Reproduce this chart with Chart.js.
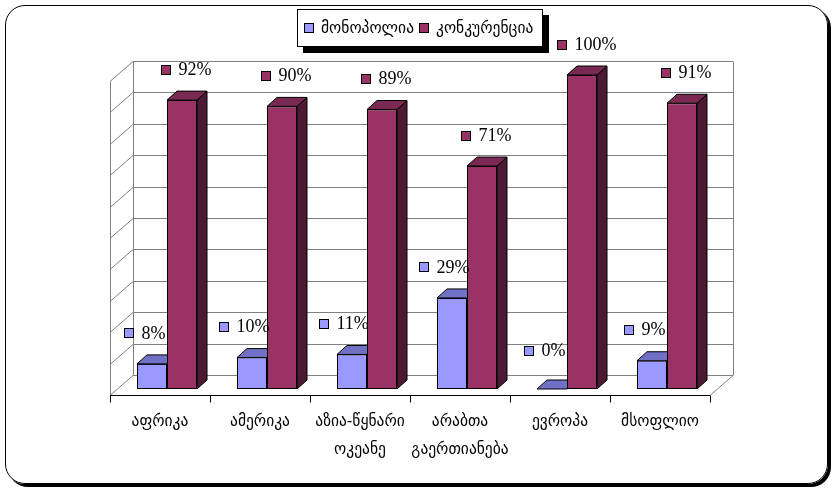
<!DOCTYPE html>
<html>
<head>
<meta charset="utf-8">
<script src="https://cdn.jsdelivr.net/npm/chart.js@4/dist/chart.umd.min.js"></script>
<style>
  html, body { margin: 0; padding: 0; background: #fff; }
  #wrap { position: relative; width: 835px; height: 491px; overflow: hidden; }
  #frame {
    position: absolute; left: 5px; top: 5px; width: 821px; height: 477px;
    border: 1px solid #000; border-radius: 20px; box-shadow: 3px 3px 0 #000;
  }
  #c { position: absolute; left: 0; top: 0; }
  #legend {
    position: absolute; left: 297px; top: 9px; width: 246px; height: 38px;
    border: 1px solid #000; background: #fff; box-shadow: 6px 6px 0 #000;
    font: 15.5px "DejaVu Sans", sans-serif; display: flex; align-items: center;
    padding-left: 6px; box-sizing: border-box; white-space: nowrap;
  }
  #legend .sw { display: inline-block; width: 8px; height: 8px; border: 1px solid #000; margin-right: 7px; }
  #legend .it { display: inline-flex; align-items: center; margin-right: 5px; }
</style>
</head>
<body>
<div id="wrap">
  <div id="frame"></div>
  <canvas id="c" width="835" height="491"></canvas>
  <div id="legend"></div>
</div>
<script>
const categories = [['აფრიკა'], ['ამერიკა'], ['აზია-წყნარი', 'ოკეანე'], ['არაბთა', 'გაერთიანება'], ['ევროპა'], ['მსოფლიო']];
const seriesNames = ['მონოპოლია', 'კონკურენცია'];
const monopoly = [8, 10, 11, 29, 0, 9];
const competition = [92, 90, 89, 71, 100, 91];
const gridValues = [0, 10, 20, 30, 40, 50, 60, 70, 80, 90, 100];

const colors = {
  front: ['#9999FF', '#993366'],
  top: ['#7070C4', '#7A2952'],
  side: ['#5C5CA3', '#4D1A33']
};

// depth geometry (bar plane -> front floor / back wall / bar back)
const FRONT = { dx: -7, dy: 6 };
const BACK = { dx: 16, dy: -14 };
const BAR_D = { dx: 10, dy: -9 };

const legend = document.getElementById('legend');
legend.innerHTML = seriesNames.map((n, i) =>
  `<span class="it"><span class="sw" style="background:${colors.front[i]}"></span>${n}</span>`
).join('');

const walls3d = {
  id: 'walls3d',
  beforeDatasetsDraw(chart) {
    const { ctx, chartArea: a, scales: { x, y } } = chart;
    ctx.save();
    ctx.lineWidth = 1;
    ctx.strokeStyle = '#808080';
    const L = a.left, R = a.right;
    ctx.beginPath();
    gridValues.forEach(v => {
      const py = Math.round(y.getPixelForValue(v)) + 0.5;
      ctx.moveTo(L + BACK.dx, py + BACK.dy);
      ctx.lineTo(R + BACK.dx, py + BACK.dy);
      ctx.moveTo(L + FRONT.dx, py + FRONT.dy);
      ctx.lineTo(L + BACK.dx, py + BACK.dy);
    });
    const yTop = Math.round(y.getPixelForValue(100)) + 0.5;
    const yBot = Math.round(y.getPixelForValue(0)) + 0.5;
    ctx.moveTo(L + FRONT.dx + 0.5, yTop + FRONT.dy);
    ctx.lineTo(L + FRONT.dx + 0.5, yBot + FRONT.dy);
    ctx.moveTo(L + BACK.dx + 0.5, yTop + BACK.dy);
    ctx.lineTo(L + BACK.dx + 0.5, yBot + BACK.dy);
    ctx.moveTo(R + BACK.dx + 0.5, yTop + BACK.dy);
    ctx.lineTo(R + BACK.dx + 0.5, yBot + BACK.dy);
    ctx.moveTo(R + FRONT.dx, yBot + FRONT.dy);
    ctx.lineTo(R + BACK.dx, yBot + BACK.dy);
    ctx.stroke();

    // front axis line + ticks
    ctx.strokeStyle = '#000';
    ctx.beginPath();
    ctx.moveTo(L + FRONT.dx, yBot + FRONT.dy);
    ctx.lineTo(R + FRONT.dx, yBot + FRONT.dy);
    for (let i = 0; i <= categories.length; i++) {
      const px = Math.round(L + (R - L) * i / categories.length + FRONT.dx) + 0.5;
      ctx.moveTo(px, yBot + FRONT.dy);
      ctx.lineTo(px, yBot + FRONT.dy + 7);
    }
    ctx.stroke();

    // bar top and side faces (front faces drawn by Chart.js after this)
    chart.data.datasets.forEach((ds, di) => {
      chart.getDatasetMeta(di).data.forEach(bar => {
        const l = bar.x - bar.width / 2, r = bar.x + bar.width / 2;
        const t = bar.y, b = bar.base;
        ctx.strokeStyle = '#000';
        ctx.fillStyle = colors.side[di];
        ctx.beginPath();
        ctx.moveTo(r, t); ctx.lineTo(r + BAR_D.dx, t + BAR_D.dy);
        ctx.lineTo(r + BAR_D.dx, b + BAR_D.dy); ctx.lineTo(r, b); ctx.closePath();
        ctx.fill(); ctx.stroke();
        ctx.fillStyle = colors.top[di];
        ctx.beginPath();
        ctx.moveTo(l, t); ctx.lineTo(l + BAR_D.dx, t + BAR_D.dy);
        ctx.lineTo(r + BAR_D.dx, t + BAR_D.dy); ctx.lineTo(r, t); ctx.closePath();
        ctx.fill(); ctx.stroke();
      });
    });
    ctx.restore();
  },
  afterDatasetsDraw(chart) {
    const { ctx, scales: { x } } = chart;
    ctx.save();
    // value labels with legend keys
    ctx.font = '18px "Liberation Serif", "Times New Roman", "DejaVu Serif", serif';
    ctx.textBaseline = 'middle';
    ctx.textAlign = 'left';
    const shift = [-8, 4];
    chart.data.datasets.forEach((ds, di) => {
      chart.getDatasetMeta(di).data.forEach((bar, i) => {
        const txt = ds.data[i] + '%';
        const tw = ctx.measureText(txt).width;
        const total = 9 + 8 + tw;
        const cx = bar.x + shift[di];
        const cy = bar.y - (ds.data[i] === 0 ? 39 : 31);
        const sx = Math.round(cx - total / 2) + 0.5;
        const sy = Math.round(cy - 4.5) + 0.5;
        ctx.fillStyle = colors.front[di];
        ctx.fillRect(sx, sy, 9, 9);
        ctx.strokeStyle = '#000';
        ctx.strokeRect(sx, sy, 9, 9);
        ctx.fillStyle = '#000';
        ctx.fillText(txt, sx + 17, cy + 1);
      });
    });
    // category labels
    ctx.font = '15.5px "DejaVu Sans", sans-serif';
    ctx.textAlign = 'center';
    categories.forEach((lines, i) => {
      const px = x.getPixelForValue(i) + FRONT.dx;
      lines.forEach((s, k) => ctx.fillText(s, px, 422 + k * 28));
    });
    ctx.restore();
  }
};

new Chart(document.getElementById('c'), {
  type: 'bar',
  data: {
    labels: categories,
    datasets: [
      { label: seriesNames[0], data: monopoly, backgroundColor: colors.front[0] },
      { label: seriesNames[1], data: competition, backgroundColor: colors.front[1] }
    ]
  },
  options: {
    responsive: false,
    animation: false,
    layout: { padding: { left: 117, right: 118, top: 75, bottom: 102 } },
    datasets: { bar: { categoryPercentage: 0.6, barPercentage: 1, borderWidth: 1, borderColor: '#000', borderSkipped: false } },
    plugins: { legend: { display: false }, tooltip: { enabled: false } },
    scales: {
      x: { display: false },
      y: { display: false, min: 0, max: 100 }
    }
  },
  plugins: [walls3d]
});
</script>
</body>
</html>
